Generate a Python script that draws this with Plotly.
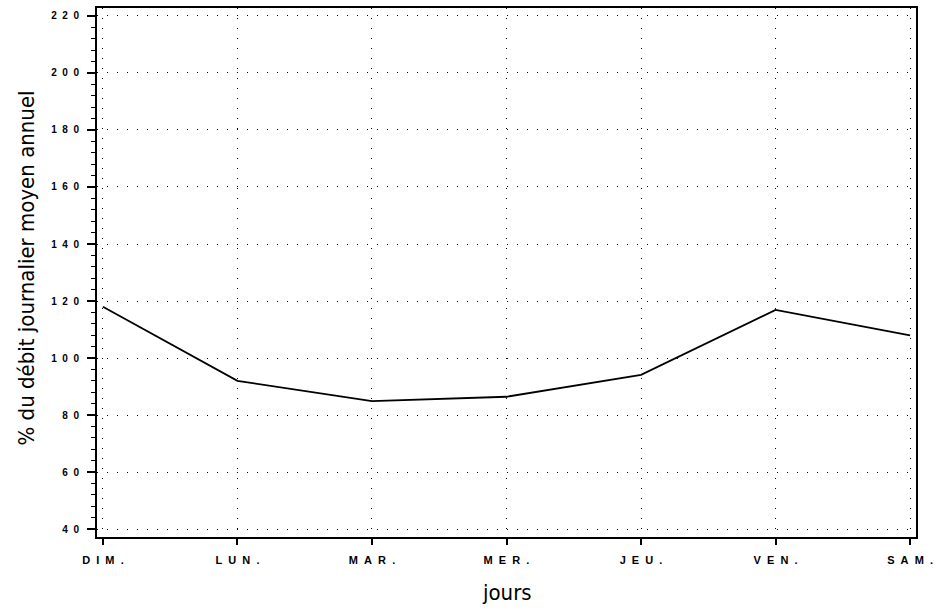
import plotly.graph_objects as go

days = ["DIM.", "LUN.", "MAR.", "MER.", "JEU.", "VEN.", "SAM."]
pct_debit = [118.0, 92.0, 84.9, 86.4, 94.1, 116.9, 107.9]
y_ticks = [40, 60, 80, 100, 120, 140, 160, 180, 200, 220]

SP = "\u00a0\u00a0"
x_ticktext = [SP.join(d) for d in days]
y_ticktext = [SP.join(str(v)) for v in y_ticks]

fig = go.Figure()
fig.add_trace(go.Scatter(
    x=list(range(len(days))), y=pct_debit, mode="lines",
    line=dict(color="black", width=1.8), showlegend=False,
))

title_family = "DejaVu Sans Condensed, Liberation Sans Narrow, Arial Narrow, sans-serif"

fig.update_layout(
    width=939, height=614,
    margin=dict(l=97, r=19, t=6, b=77),
    paper_bgcolor="white", plot_bgcolor="white",
    xaxis=dict(
        range=[-0.044, 6.044],
        tickvals=list(range(len(days))), ticktext=x_ticktext,
        tickfont=dict(family="Liberation Sans, Arial, sans-serif", size=11, color="black", weight="bold"),
        ticks="outside", ticklen=6, tickwidth=1.5, tickcolor="black", ticklabelstandoff=6,
        showline=True, linecolor="black", linewidth=2, mirror=True,
        showgrid=True, gridcolor="black", gridwidth=1, griddash="1px,9px",
        zeroline=False,
    ),
    yaxis=dict(
        range=[37.2, 222.8],
        tickvals=y_ticks, ticktext=y_ticktext,
        tickfont=dict(family="Liberation Sans, Arial, sans-serif", size=10, color="black", weight="bold"),
        ticks="outside", ticklen=8, tickwidth=1.5, tickcolor="black", ticklabelstandoff=6,
        minor=dict(dtick=4, ticks="outside", ticklen=4, tickcolor="black", tickwidth=1, showgrid=False),
        showline=True, linecolor="black", linewidth=2, mirror=True,
        showgrid=True, gridcolor="black", gridwidth=1, griddash="1px,9px",
        zeroline=False,
    ),
    annotations=[
        dict(text="% du débit journalier moyen annuel", xref="paper", yref="paper",
             x=0, y=0.5, xshift=-71, yshift=4, xanchor="center", yanchor="middle",
             textangle=-90, showarrow=False,
             font=dict(family=title_family, size=22, color="black")),
        dict(text="jours", xref="paper", yref="paper",
             x=0.5, y=0, yshift=-55, xanchor="center", yanchor="middle", showarrow=False,
             font=dict(family=title_family, size=22, color="black")),
    ],
)

fig.write_html("out.html", config={"displayModeBar": False},
               post_script="document.body.style.margin='0';")
